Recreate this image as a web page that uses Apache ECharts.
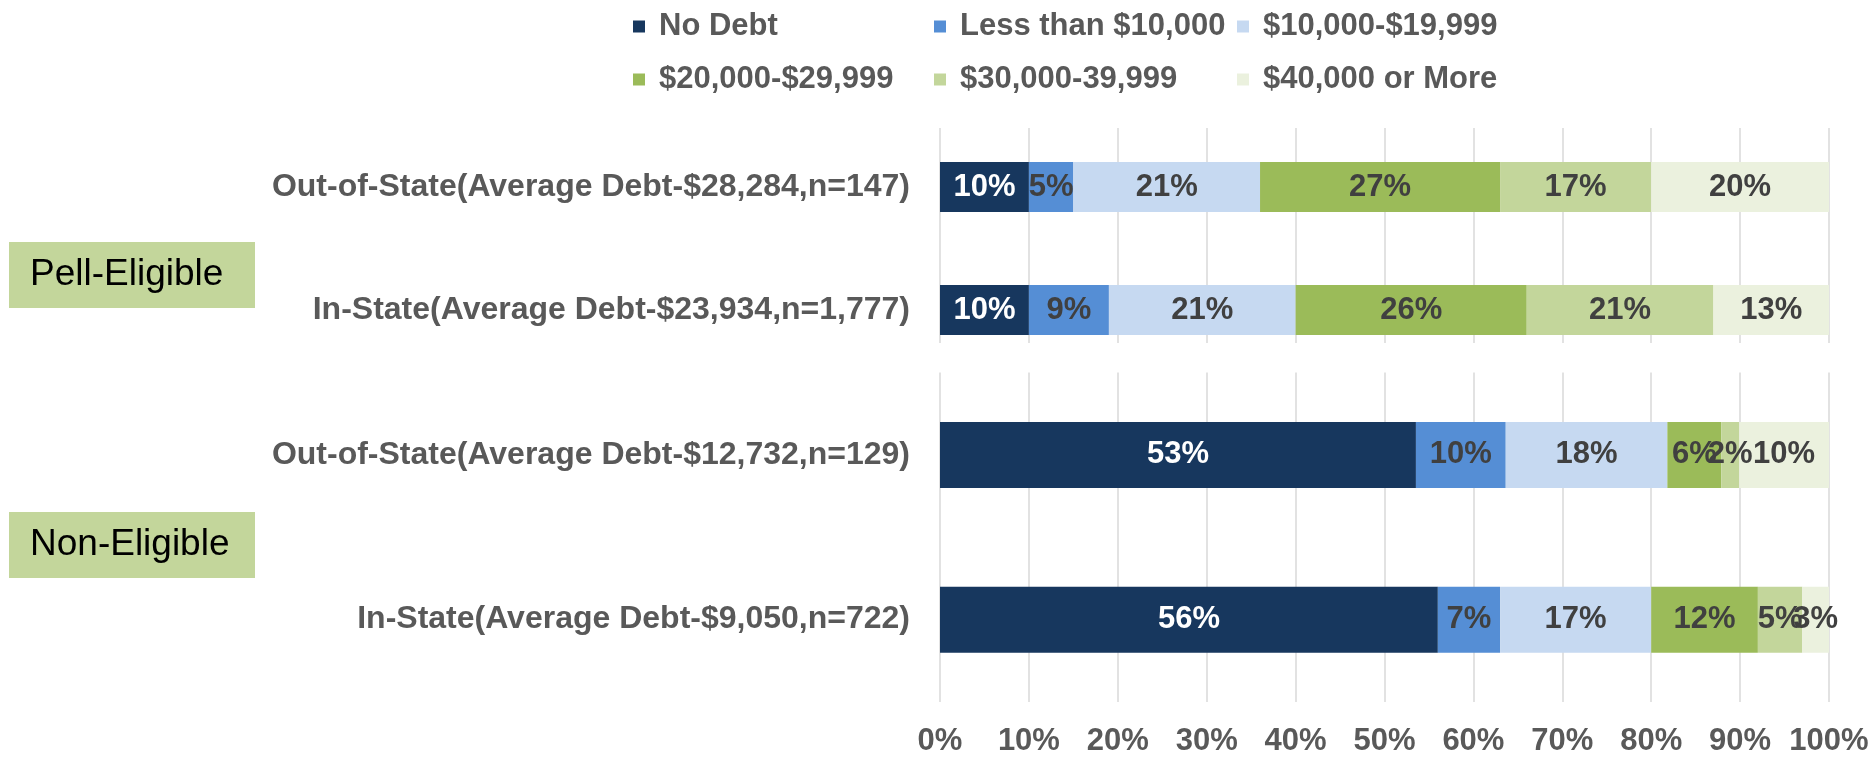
<!DOCTYPE html>
<html>
<head>
<meta charset="utf-8">
<title>Student Debt Distribution</title>
<script src="https://cdn.jsdelivr.net/npm/echarts@6/dist/echarts.min.js"></script>
<style>
html, body { margin: 0; padding: 0; background: #fff; }
#main { width: 1872px; height: 757px; }
</style>
</head>
<body>
<div id="main"></div>
<script>
var debtLevels = ['No Debt', 'Less than $10,000', '$10,000-$19,999', '$20,000-$29,999', '$30,000-39,999', '$40,000 or More']
var levelColors = ['#17375e', '#558ed5', '#c6d9f1', '#9bbb59', '#c3d69b', '#ebf1de']
var labelColors = ['#ffffff', '#404040', '#404040', '#404040', '#404040', '#404040']

var pellRows = ['Out-of-State(Average Debt-$28,284,n=147)', 'In-State(Average Debt-$23,934,n=1,777)']
var nonRows = ['Out-of-State(Average Debt-$12,732,n=129)', 'In-State(Average Debt-$9,050,n=722)']

// percent of students per debt level, same order as debtLevels
var pellOut = [10, 5, 21, 27, 17, 20]
var pellIn = [10, 9, 21, 26, 21, 13]
var nonOut = [53, 10, 18, 6, 2, 10]
var nonIn = [56, 7, 17, 12, 5, 3]

var font = "'Liberation Sans', Arial, sans-serif"

function rowSum (r) {
  return r.reduce(function (a, b) { return a + b }, 0)
}

// one series per debt level, stacked to a full 100% bar
function buildSeries (rows, axisIdx, stack, barWidth) {
  return debtLevels.map(function (name, k) {
    return {
      name: name,
      type: 'bar',
      stack: stack,
      xAxisIndex: axisIdx,
      yAxisIndex: axisIdx,
      barWidth: barWidth,
      itemStyle: { color: levelColors[k] },
      emphasis: { disabled: true },
      label: {
        show: true,
        position: 'inside',
        color: labelColors[k],
        fontFamily: font,
        fontWeight: 'bold',
        fontSize: 31,
        formatter: function (p) {
          return rows[p.dataIndex][k] + '%'
        }
      },
      data: rows.map(function (r) { return r[k] / rowSum(r) * 100 })
    }
  })
}

var legendBase = {
  orient: 'vertical',
  top: 6,
  icon: 'rect',
  itemWidth: 12,
  itemHeight: 12,
  itemGap: 22,
  selectedMode: false,
  textStyle: {
    color: '#595959',
    fontFamily: font,
    fontWeight: 'bold',
    fontSize: 31,
    lineHeight: 31,
    padding: [0, 0, 0, 9]
  }
}

function legendCol (left, names) {
  return Object.assign({}, legendBase, { left: left, data: names })
}

var valueAxis = {
  type: 'value',
  min: 0,
  max: 100,
  interval: 10,
  axisLine: { show: false },
  axisTick: { show: false },
  splitLine: { show: false }
}

function catAxis (gridIdx, names) {
  return {
    type: 'category',
    gridIndex: gridIdx,
    inverse: true,
    data: names,
    axisLine: { show: false },
    axisTick: { show: false },
    axisLabel: {
      margin: 30,
      color: '#595959',
      fontFamily: font,
      fontWeight: 'bold',
      fontSize: 32
    }
  }
}

var myChart = echarts.init(document.getElementById('main'))

myChart.setOption({
  animation: false,
  backgroundColor: '#ffffff',
  legend: [
    legendCol(628, [debtLevels[0], debtLevels[3]]),
    legendCol(929, [debtLevels[1], debtLevels[4]]),
    legendCol(1232, [debtLevels[2], debtLevels[5]])
  ],
  grid: [
    { left: 940, right: 43, top: 125.5, height: 246 },
    { left: 940, right: 43, top: 372.5, height: 330 },
    { left: 940, right: 43, top: 128, height: 215 }
  ],
  xAxis: [
    Object.assign({}, valueAxis, { gridIndex: 0, axisLabel: { show: false } }),
    Object.assign({}, valueAxis, {
      gridIndex: 1,
      splitLine: { show: true, lineStyle: { color: '#d9d9d9', width: 1.5 } },
      axisLabel: {
        margin: 24,
        color: '#595959',
        fontFamily: font,
        fontWeight: 'bold',
        fontSize: 31,
        formatter: '{value}%'
      }
    }),
    Object.assign({}, valueAxis, {
      gridIndex: 2,
      splitLine: { show: true, lineStyle: { color: '#d9d9d9', width: 1.5 } },
      axisLabel: { show: false }
    })
  ],
  yAxis: [
    catAxis(0, pellRows),
    catAxis(1, nonRows),
    { type: 'value', gridIndex: 2, show: false, min: 0, max: 1 }
  ],
  graphic: [
    { type: 'rect', left: 9, top: 242, shape: { width: 246, height: 66 }, style: { fill: '#c3d69b' }, z: 10 },
    { type: 'text', left: 30, top: 256, style: { text: 'Pell-Eligible', fill: '#000', font: "37px 'Liberation Sans', Arial, sans-serif" }, z: 11 },
    { type: 'rect', left: 9, top: 512, shape: { width: 246, height: 66 }, style: { fill: '#c3d69b' }, z: 10 },
    { type: 'text', left: 30, top: 526, style: { text: 'Non-Eligible', fill: '#000', font: "37px 'Liberation Sans', Arial, sans-serif" }, z: 11 }
  ],
  series: buildSeries([pellOut, pellIn], 0, 'pell', 50)
    .concat(buildSeries([nonOut, nonIn], 1, 'non', 66))
})

window.onresize = myChart.resize
</script>
</body>
</html>
